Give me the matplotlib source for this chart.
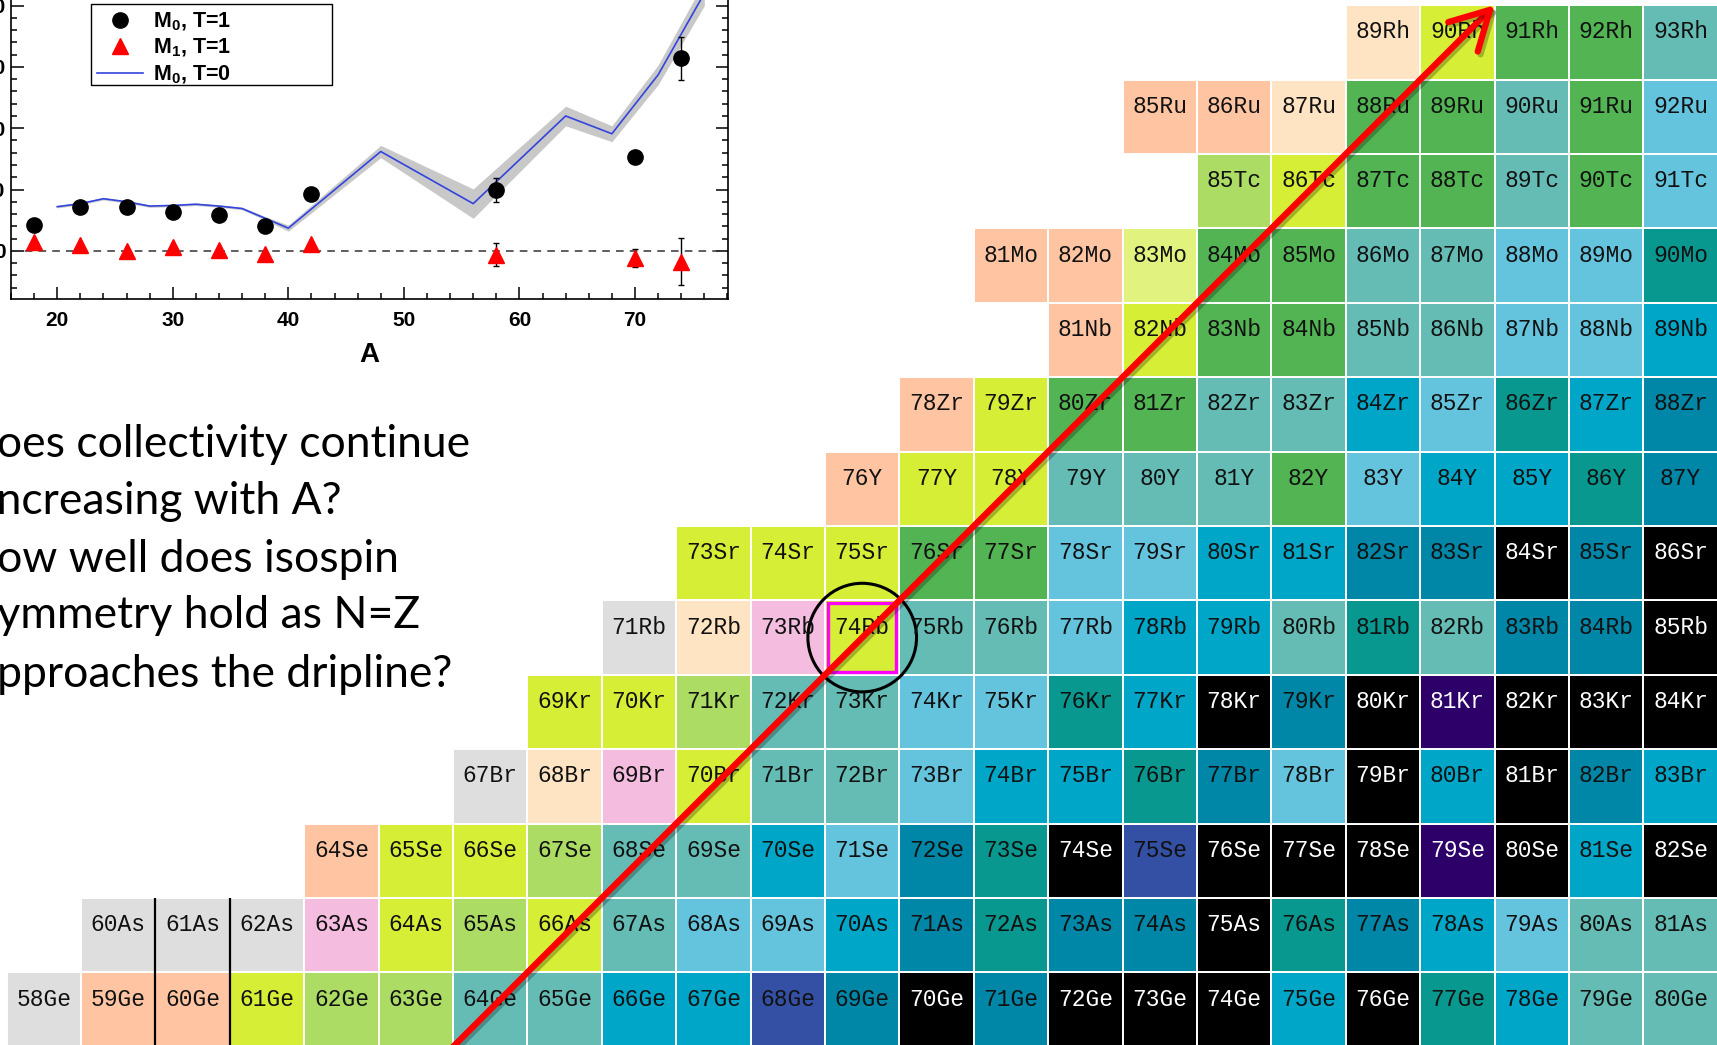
import matplotlib
matplotlib.use('Agg')
import matplotlib.pyplot as plt
import matplotlib.patheffects as pe
from matplotlib.patches import Rectangle, Circle
from matplotlib.lines import Line2D
from matplotlib.ticker import MultipleLocator
import numpy as np

plt.rcParams['mathtext.fontset'] = 'custom'
plt.rcParams['mathtext.bf'] = 'Liberation Sans:bold'
plt.rcParams['mathtext.rm'] = 'Liberation Sans'

# ---- chart of nuclides: one row per element ----
elements = ['Ge', 'As', 'Se', 'Br', 'Kr', 'Rb', 'Sr', 'Y', 'Zr', 'Nb', 'Mo', 'Tc', 'Ru', 'Rh']
z_values = [32, 33, 34, 35, 36, 37, 38, 39, 40, 41, 42, 43, 44, 45]
n_first = [26, 27, 30, 32, 33, 34, 35, 37, 38, 40, 39, 42, 41, 44]
n_last = 48
cell_codes = [
    "gssyLLttBBIDKDKKKBKTBtt",   # Ge
    "gggpyLytccBDTDDKTDBctt",    # As
    "syyLttBcDTKIKKKPKBK",       # Se
    "gbpyttcBBTDcKBKDB",         # Br
    "yyLttccTBKDKPKKK",          # Kr
    "gbpyttcBBtTtDDK",           # Rb
    "yyyGGccBBDDKDK",            # Sr
    "syytttGcBBTD",              # Y
    "syGGttBcTBD",               # Zr
    "syGGttccB",                 # Nb
    "sslGGttccT",                # Mo
    "LyGGtGc",                   # Tc
    "ssbGGtGc",                  # Ru
    "byGGt",                     # Rh
]
palette = {
    'g': '#dedede', 's': '#ffc4a2', 'b': '#ffe4c4', 'p': '#f4bcde',
    'y': '#d6ee36', 'l': '#e2f27e', 'L': '#acdc64', 'G': '#52b452',
    't': '#64bcb4', 'c': '#64c4de', 'B': '#00a6c8', 'D': '#0086a6',
    'T': '#089890', 'I': '#3450a4', 'P': '#2c0068', 'K': '#000000',
}

# ---- inset: M0 / M1 versus A ----
a_m0 = [18, 22, 26, 30, 34, 38, 42, 58, 70, 74]
m0_t1 = [4.2, 7.1, 7.1, 6.3, 5.9, 4.0, 9.3, 9.9, 15.3, 31.4]
m0_t1_err = [0, 0, 0, 0, 0, 0, 0, 2.0, 0, 3.5]
a_m1 = [18, 22, 26, 30, 34, 38, 42, 58, 70, 74]
m1_t1 = [1.5, 1.0, 0.0, 0.55, 0.1, -0.55, 1.05, -0.6, -1.2, -1.75]
m1_t1_err = [0, 0, 0, 0, 0, 0, 0, 1.9, 1.5, 3.9]
a_t0 = [20, 22, 24, 26, 28, 30, 32, 34, 36, 38, 40, 48, 56, 64, 68, 72, 76]
m0_t0 = [7.2, 7.7, 8.5, 8.0, 7.3, 7.4, 7.6, 7.3, 6.9, 5.3, 3.7, 16.2, 7.7, 22.0, 19.1, 28.7, 42.0]
m0_t0_band = [0.2, 0.2, 0.2, 0.2, 0.2, 0.2, 0.2, 0.2, 0.2, 0.3, 0.5, 1.0, 2.4, 1.6, 1.3, 1.6, 2.0]

question_lines = ["Does collectivity continue", "increasing with A?",
                  "How well does isospin", "symmetry hold as N=Z",
                  "approaches the dripline?"]
hidden_prefix = ["D", "i", "H", "s", "a"]

W, H = 1717, 1045
fig = plt.figure(figsize=(W / 100, H / 100), dpi=100)
fig.patch.set_facecolor('white')

ax = fig.add_axes([0, 0, 1, 1])
ax.set_xlim(25.411, 48.489)
ax.set_ylim(31.524, 45.570)
ax.axis('off')

for el, z, n0, codes in zip(elements, z_values, n_first, cell_codes):
    for i, code in enumerate(codes):
        n = n0 + i
        ax.add_patch(Rectangle((n - 0.5, z - 0.5), 1, 1, facecolor=palette[code],
                               edgecolor='white', lw=1.4))
        txt_col = 'white' if code in 'KP' else '#111111'
        ax.text(n, z + 0.14, f"{n + z}{el}", ha='center', va='center',
                family='Liberation Mono', fontsize=16.5, color=txt_col)

# dripline marks between the lightest Ge/As cells
for xb in (27.5, 28.5):
    ax.plot([xb, xb], [31.4, 33.5], color='black', lw=1.6, solid_capstyle='butt')

# highlighted 74Rb
ax.add_patch(Rectangle((37 - 0.46, 37 - 0.46), 0.92, 0.92, fill=False,
                       edgecolor='#ff00ff', lw=2.4))
ax.add_patch(Circle((37, 37), 0.73, fill=False, edgecolor='black', lw=2.2))

# N = Z arrow
ax.annotate('', xy=(45.5, 45.5), xytext=(31.3, 31.3),
            arrowprops=dict(arrowstyle='->,head_length=0.55,head_width=0.3',
                            color='#ff0000', lw=4.5, mutation_scale=50,
                            shrinkA=0, shrinkB=0,
                            path_effects=[pe.SimpleLineShadow(offset=(2, -2), alpha=0.25),
                                          pe.Normal()]))

# ---- inset axes ----
axi = fig.add_axes([11 / W, 1 - 299 / H, 717 / W, 324 / H])
axi.set_xlim(16, 78.05)
axi.set_ylim(-7.86, 45)
lo = np.array(m0_t0) - np.array(m0_t0_band)
hi = np.array(m0_t0) + np.array(m0_t0_band)
axi.fill_between(a_t0, lo, hi, color='#c8c8c8', lw=0)
axi.plot(a_t0, m0_t0, color='#3344dd', lw=1.2)
axi.axhline(0, color='#333333', ls=(0, (5, 4)), lw=1.1)
axi.errorbar(a_m0, m0_t1, yerr=m0_t1_err, fmt='o', color='black', ms=11,
             elinewidth=1, capsize=2)
axi.errorbar(a_m1, m1_t1, yerr=m1_t1_err, fmt='^', mfc='red', mec='red',
             ecolor='black', ms=11, elinewidth=1, capsize=2)

axi.xaxis.set_major_locator(MultipleLocator(10))
axi.xaxis.set_minor_locator(MultipleLocator(2))
axi.yaxis.set_major_locator(MultipleLocator(10))
axi.yaxis.set_minor_locator(MultipleLocator(2))
axi.tick_params(which='both', direction='in', left=True, right=True, top=True, bottom=True,
                width=1.1)
axi.tick_params(which='major', length=9)
axi.tick_params(which='minor', length=4.5)
axi.tick_params(axis='x', pad=9)
axi.tick_params(axis='y', pad=4)
for lab in axi.get_xticklabels() + axi.get_yticklabels():
    lab.set_family('Liberation Sans')
    lab.set_fontweight('bold')
    lab.set_fontsize(15)
for sp in axi.spines.values():
    sp.set_linewidth(1.2)
axi.set_xlabel('A', family='Liberation Sans', fontweight='bold', fontsize=20, labelpad=8)

# legend with a wide frame drawn by hand, as in the original
handles = [Line2D([], [], ls='none', marker='o', color='black', ms=11),
           Line2D([], [], ls='none', marker='^', color='red', ms=11),
           Line2D([], [], color='#3344dd', lw=1.2)]
labels = [r'$\mathbf{M_0}$, T=1', r'$\mathbf{M_1}$, T=1', r'$\mathbf{M_0}$, T=0']
leg = axi.legend(handles, labels, loc='upper left', bbox_to_anchor=(91 / W, 1 - 4 / H),
                 bbox_transform=fig.transFigure, borderaxespad=0, frameon=False,
                 handlelength=2.1, labelspacing=0.2, borderpad=0.3, handletextpad=0.5,
                 prop={'family': 'Liberation Sans', 'weight': 'bold', 'size': 15.5})
fig.add_artist(Rectangle((91 / W, 1 - 85 / H), 241 / W, 81 / H, transform=fig.transFigure,
                         fill=False, edgecolor='black', lw=1.0))

# ---- question text, clipped at the left edge ----
renderer = fig.canvas.get_renderer()
q_size = 32


def text_width(s):
    t = fig.text(0, 0, s, family='Lato', fontsize=q_size)
    w = t.get_window_extent(renderer).width
    t.remove()
    return w


baselines = [457, 514, 572, 628, 687]
for line, pre, yb in zip(question_lines, hidden_prefix, baselines):
    shift = text_width(line) - text_width(line[len(pre):])
    x0 = -3 - shift
    fig.text(x0 / W, 1 - yb / H, line, family='Lato', fontsize=q_size, va='baseline',
             color='black')

fig.savefig('out.png', dpi=100, facecolor='white')
